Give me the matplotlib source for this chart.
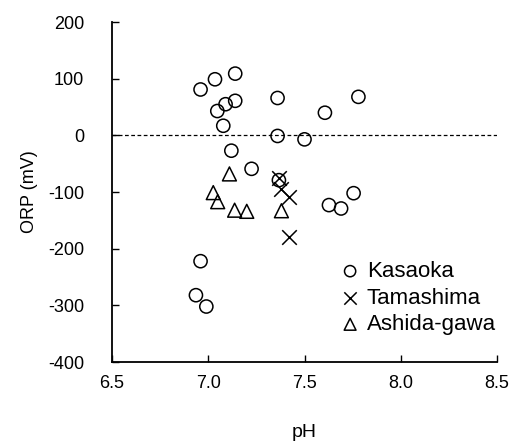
import matplotlib.pyplot as plt

# Kasaoka
kasaoka_ph = [6.96, 7.035, 7.14, 7.047, 7.09, 7.14, 7.078, 7.36, 7.36, 7.50, 7.606, 7.12,
              7.225, 7.367, 7.627, 7.69, 7.755, 7.78, 6.96, 6.936, 6.99]
kasaoka_orp = [81, 99, 109, 43, 55, 61, 17, 66, -1, -7, 40, -27,
               -59, -79, -123, -129, -102, 68, -222, -282, -302]

# Tamashima
tamashima_ph = [7.37, 7.38, 7.42, 7.42]
tamashima_orp = [-76, -94, -108, -180]

# Ashida-gawa
ashida_ph = [7.11, 7.026, 7.049, 7.137, 7.20, 7.38]
ashida_orp = [-68, -101, -117, -132, -134, -133]

plt.rcParams['font.family'] = ['Liberation Sans', 'DejaVu Sans']
plt.rcParams['axes.unicode_minus'] = False

fig = plt.figure(figsize=(5.12, 4.41), dpi=100)
ax = fig.add_axes([0.21875, 0.179, 0.752, 0.771])

ax.axhline(0, color='black', linestyle=(0, (3, 2)), linewidth=0.9, zorder=1)

ax.scatter(kasaoka_ph, kasaoka_orp, s=90, facecolors='none', edgecolors='black',
           linewidths=1.1, marker='o', label='Kasaoka', zorder=3)
ax.scatter(tamashima_ph, tamashima_orp, s=110, color='black',
           linewidths=1.1, marker='x', label='Tamashima', zorder=3)
ax.scatter(ashida_ph, ashida_orp, s=100, facecolors='none', edgecolors='black',
           linewidths=1.1, marker='^', label='Ashida-gawa', zorder=3)

ax.set_xlim(6.5, 8.5)
ax.set_ylim(-400, 200)
ax.set_xticks([6.5, 7.0, 7.5, 8.0, 8.5])
ax.set_xticklabels(['6.5', '7.0', '7.5', '8.0', '8.5'])
ax.set_yticks([-400, -300, -200, -100, 0, 100, 200])
ax.tick_params(direction='in', length=5, width=1, labelsize=13)
ax.tick_params(axis='y', pad=20)
ax.tick_params(axis='x', pad=9)

ax.spines['top'].set_visible(False)
ax.spines['right'].set_visible(False)
ax.spines['left'].set_linewidth(1.3)
ax.spines['bottom'].set_linewidth(1.3)

ax.set_xlabel('pH', fontsize=14, labelpad=23)
ax.set_ylabel('ORP (mV)', fontsize=13, labelpad=7)

ax.legend(loc='upper left', bbox_to_anchor=(339 / 512, 1 - 261 / 441),
          bbox_transform=fig.transFigure, frameon=False, fontsize=16,
          handletextpad=0.25, borderpad=0, labelspacing=0.25, handlelength=1.0,
          borderaxespad=0, markerscale=0.85)

fig.savefig('out.png', dpi=100)
